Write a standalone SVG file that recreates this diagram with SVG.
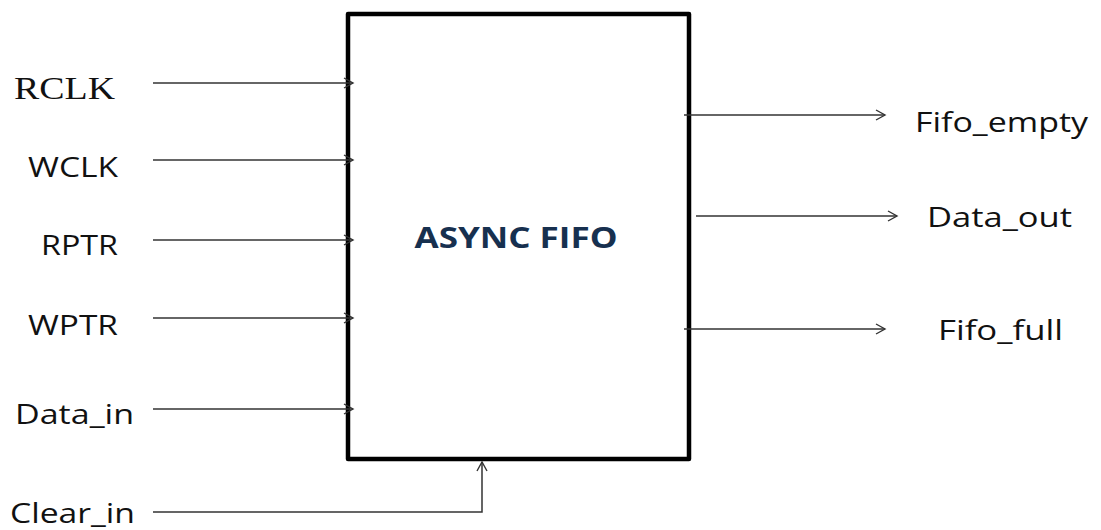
<svg xmlns="http://www.w3.org/2000/svg" width="1101" height="530" viewBox="0 0 1101 530">
<style>
.lbl{font-family:"Open Sans","Liberation Sans",sans-serif;font-size:28px;fill:#111}
.ser{font-family:"Liberation Serif",serif;font-size:32px;fill:#111}
.title{font-family:"Open Sans","Liberation Sans",sans-serif;font-size:29px;font-weight:bold;fill:#17304f}
.wire{fill:none;stroke:#333;stroke-width:1.5}
</style>
<defs>
<marker id="ah" markerWidth="14" markerHeight="14" refX="10" refY="6" orient="auto" markerUnits="userSpaceOnUse">
<path d="M1,1 L10,6 L1,11" fill="none" stroke="#333" stroke-width="1.4"/>
</marker>
</defs>
<rect width="1101" height="530" fill="#fff"/>
<g id="fifo">
<rect x="348" y="14" width="341" height="445" fill="#fff" stroke="#000" stroke-width="4.5" stroke-linejoin="round"/>
<text class="title" x="516" y="248" text-anchor="middle" textLength="203" lengthAdjust="spacingAndGlyphs">ASYNC FIFO</text>
</g>
<g id="connectors">
<line class="wire" x1="153" y1="83" x2="353" y2="83" marker-end="url(#ah)"/>
<line class="wire" x1="153" y1="160" x2="353" y2="160" marker-end="url(#ah)"/>
<line class="wire" x1="153" y1="240" x2="353" y2="240" marker-end="url(#ah)"/>
<line class="wire" x1="153" y1="318" x2="353" y2="318" marker-end="url(#ah)"/>
<line class="wire" x1="153" y1="409" x2="353" y2="409" marker-end="url(#ah)"/>
<polyline class="wire" points="153,512 482,512 482,462" marker-end="url(#ah)"/>
<line class="wire" x1="684" y1="115" x2="885" y2="115" marker-end="url(#ah)"/>
<line class="wire" x1="696" y1="216" x2="897" y2="216" marker-end="url(#ah)"/>
<line class="wire" x1="684" y1="329" x2="885" y2="329" marker-end="url(#ah)"/>
</g>
<g id="labels">
<text class="ser" x="14" y="99" textLength="101" lengthAdjust="spacingAndGlyphs">RCLK</text>
<text class="lbl" x="28" y="177" textLength="90" lengthAdjust="spacingAndGlyphs">WCLK</text>
<text class="lbl" x="41" y="255" textLength="77" lengthAdjust="spacingAndGlyphs">RPTR</text>
<text class="lbl" x="28" y="335" textLength="90" lengthAdjust="spacingAndGlyphs">WPTR</text>
<text class="lbl" x="15" y="424" textLength="119" lengthAdjust="spacingAndGlyphs">Data_in</text>
<text class="lbl" x="10" y="523" textLength="125" lengthAdjust="spacingAndGlyphs">Clear_in</text>
<text class="lbl" x="915" y="132" textLength="173" lengthAdjust="spacingAndGlyphs">Fifo_empty</text>
<text class="lbl" x="927" y="227" textLength="145" lengthAdjust="spacingAndGlyphs">Data_out</text>
<text class="lbl" x="938" y="340" textLength="125" lengthAdjust="spacingAndGlyphs">Fifo_full</text>
</g>
</svg>
